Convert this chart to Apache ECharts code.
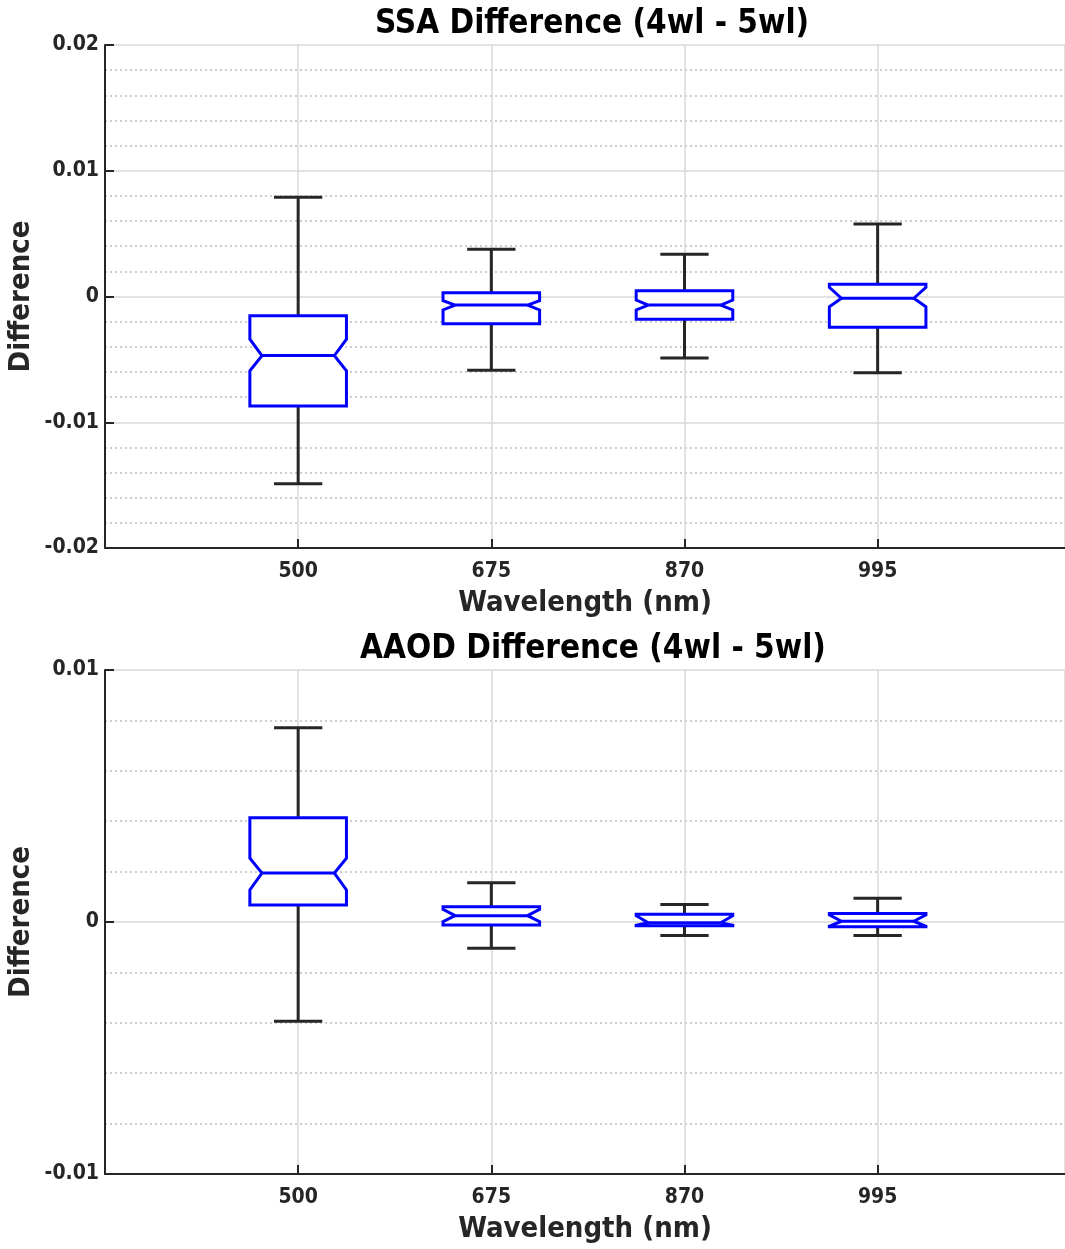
<!DOCTYPE html>
<html>
<head>
<meta charset="utf-8">
<script src="https://cdn.jsdelivr.net/npm/echarts@6/dist/echarts.min.js"></script>
<style>
html,body{margin:0;padding:0;background:#fff;}
#c{width:1065px;height:1249px;}
</style>
</head>
<body>
<div id="c"></div>
<script>
// Categories (wavelengths, nm)
var categories = ['500', '675', '870', '995'];
var positions = [1, 2, 3, 4];

// SSA difference box statistics (per wavelength)
var ssaWhiskerLow  = [-0.0149, -0.00587, -0.00489, -0.00606];
var ssaQ1          = [-0.0087, -0.00216, -0.00181, -0.00245];
var ssaNotchLow    = [-0.0059, -0.00107, -0.00107, -0.00081];
var ssaMedian      = [-0.0047, -0.00068, -0.00068, -0.00014];
var ssaNotchHigh   = [-0.0034, -0.00033, -0.00028,  0.00073];
var ssaQ3          = [-0.00153, 0.0003,   0.00046,  0.00097];
var ssaWhiskerHigh = [ 0.0079,  0.00375,  0.00336,  0.00577];

// AAOD difference box statistics (per wavelength)
var aaodWhiskerLow  = [-0.00394, -0.00104, -0.00054, -0.00054];
var aaodQ1          = [ 0.00067, -0.00012, -0.00015, -0.00019];
var aaodNotchLow    = [ 0.00127,  0.00001, -0.00013, -0.00017];
var aaodMedian      = [ 0.00194,  0.00025, -0.00003,  0.00003];
var aaodNotchHigh   = [ 0.00253,  0.0005,   0.00025,  0.00028];
var aaodQ3          = [ 0.00414,  0.00061,  0.00031,  0.00034];
var aaodWhiskerHigh = [ 0.00771,  0.00156,  0.00069,  0.00094];

// Tick labels
var ssaTicks = [-0.02, -0.01, 0, 0.01, 0.02];
var aaodTicks = [-0.01, 0, 0.01];

function buildData(wl, q1, nlo, med, nhi, q3, whi) {
  return positions.map(function (p, i) {
    return [p, wl[i], q1[i], nlo[i], med[i], nhi[i], q3[i], whi[i]];
  });
}

var FONT = '"DejaVu Sans Condensed", "DejaVu Sans", sans-serif';
var TXT = '#262626';
var BLUE = '#0000ff';
var BLACK = '#262626';

function renderBox(params, api) {
  var x = api.value(0);
  var wl = api.value(1), q1 = api.value(2), nlo = api.value(3), med = api.value(4),
      nhi = api.value(5), q3 = api.value(6), whi = api.value(7);
  var hw = 0.25, nw = 0.1875, cw = 0.125;
  function P(dx, v) { return api.coord([x + dx, v]); }
  var blackStyle = { stroke: BLACK, lineWidth: 3, fill: null };
  var blueStyle = { stroke: BLUE, lineWidth: 3, fill: null };
  var children = [];
  function line(a, b, st) {
    children.push({ type: 'line', shape: { x1: a[0], y1: a[1], x2: b[0], y2: b[1] }, style: st });
  }
  line(P(0, q3), P(0, whi), blackStyle);
  line(P(-cw, whi), P(cw, whi), blackStyle);
  line(P(0, q1), P(0, wl), blackStyle);
  line(P(-cw, wl), P(cw, wl), blackStyle);
  var pts = [P(-hw, q1), P(-hw, nlo), P(-nw, med), P(-hw, nhi), P(-hw, q3),
             P(hw, q3), P(hw, nhi), P(nw, med), P(hw, nlo), P(hw, q1)];
  children.push({ type: 'polygon', shape: { points: pts },
    style: { stroke: BLUE, lineWidth: 3, fill: '#fff', lineJoin: 'miter', miterLimit: 2 } });
  line(P(-nw, med), P(nw, med), blueStyle);
  return { type: 'group', children: children };
}

function fmtY(v) {
  var r = Math.round(v * 100) / 100;
  if (Math.abs(r) < 1e-12) return '0';
  return r.toFixed(2);
}

function xAxisCfg(gi) {
  return {
    type: 'value', gridIndex: gi, min: 0, max: 4.97, interval: 1,
    name: 'Wavelength (nm)', nameLocation: 'middle', nameGap: 41, nameMoveOverlap: false,
    nameTextStyle: { fontFamily: FONT, fontWeight: 'bold', fontSize: 29, color: TXT },
    axisLine: { show: true, onZero: false, lineStyle: { color: BLACK, width: 2 } },
    axisTick: { show: true, inside: true, length: 9, lineStyle: { color: BLACK, width: 2 } },
    axisLabel: {
      margin: 13, fontFamily: FONT, fontWeight: 'bold', fontSize: 21, color: TXT,
      showMaxLabel: false,
      formatter: function (v) { var i = positions.indexOf(Math.round(v * 100) / 100); return i >= 0 ? categories[i] : ''; }
    },
    splitLine: { show: true, lineStyle: { color: '#d9d9d9', width: 1.5 } }
  };
}

function yAxisCfg(gi, min, max) {
  return {
    type: 'value', gridIndex: gi, min: min, max: max, interval: 0.01,
    name: 'Difference', nameLocation: 'middle', nameGap: 69, nameMoveOverlap: false,
    nameTextStyle: { fontFamily: FONT, fontWeight: 'bold', fontSize: 29, color: TXT },
    axisLine: { show: true, onZero: false, lineStyle: { color: BLACK, width: 2 } },
    axisTick: { show: true, inside: true, length: 9, lineStyle: { color: BLACK, width: 2 } },
    minorTick: { show: false, splitNumber: 5 },
    axisLabel: { margin: 6, fontFamily: FONT, fontWeight: 'bold', fontSize: 21, color: TXT, formatter: fmtY },
    splitLine: { show: true, lineStyle: { color: '#d9d9d9', width: 1.5 } },
    minorSplitLine: { show: true, lineStyle: { color: '#bdbdbd', width: 1.5, type: [2, 3] } }
  };
}

var chart = echarts.init(document.getElementById('c'), null, { renderer: 'canvas' });
chart.setOption({
  animation: false,
  backgroundColor: '#fff',
  title: [
    { text: 'SSA Difference (4wl - 5wl)', left: 587, top: 3, textAlign: 'center',
      textStyle: { fontFamily: FONT, fontWeight: 'bold', fontSize: 33, color: '#000' } },
    { text: 'AAOD Difference (4wl - 5wl)', left: 588, top: 628, textAlign: 'center',
      textStyle: { fontFamily: FONT, fontWeight: 'bold', fontSize: 33, color: '#000' } }
  ],
  grid: [
    { left: 105, top: 45, right: 0, height: 503, containLabel: false, outerBoundsMode: 'none' },
    { left: 105, top: 670, right: 0, height: 504, containLabel: false, outerBoundsMode: 'none' }
  ],
  xAxis: [xAxisCfg(0), xAxisCfg(1)],
  yAxis: [yAxisCfg(0, ssaTicks[0], ssaTicks[ssaTicks.length - 1]), yAxisCfg(1, aaodTicks[0], aaodTicks[aaodTicks.length - 1])],
  series: [
    { type: 'custom', xAxisIndex: 0, yAxisIndex: 0, renderItem: renderBox,
      encode: { x: 0, y: [1, 2, 3, 4, 5, 6, 7] },
      data: buildData(ssaWhiskerLow, ssaQ1, ssaNotchLow, ssaMedian, ssaNotchHigh, ssaQ3, ssaWhiskerHigh) },
    { type: 'custom', xAxisIndex: 1, yAxisIndex: 1, renderItem: renderBox,
      encode: { x: 0, y: [1, 2, 3, 4, 5, 6, 7] },
      data: buildData(aaodWhiskerLow, aaodQ1, aaodNotchLow, aaodMedian, aaodNotchHigh, aaodQ3, aaodWhiskerHigh) }
  ]
});
</script>
</body>
</html>
